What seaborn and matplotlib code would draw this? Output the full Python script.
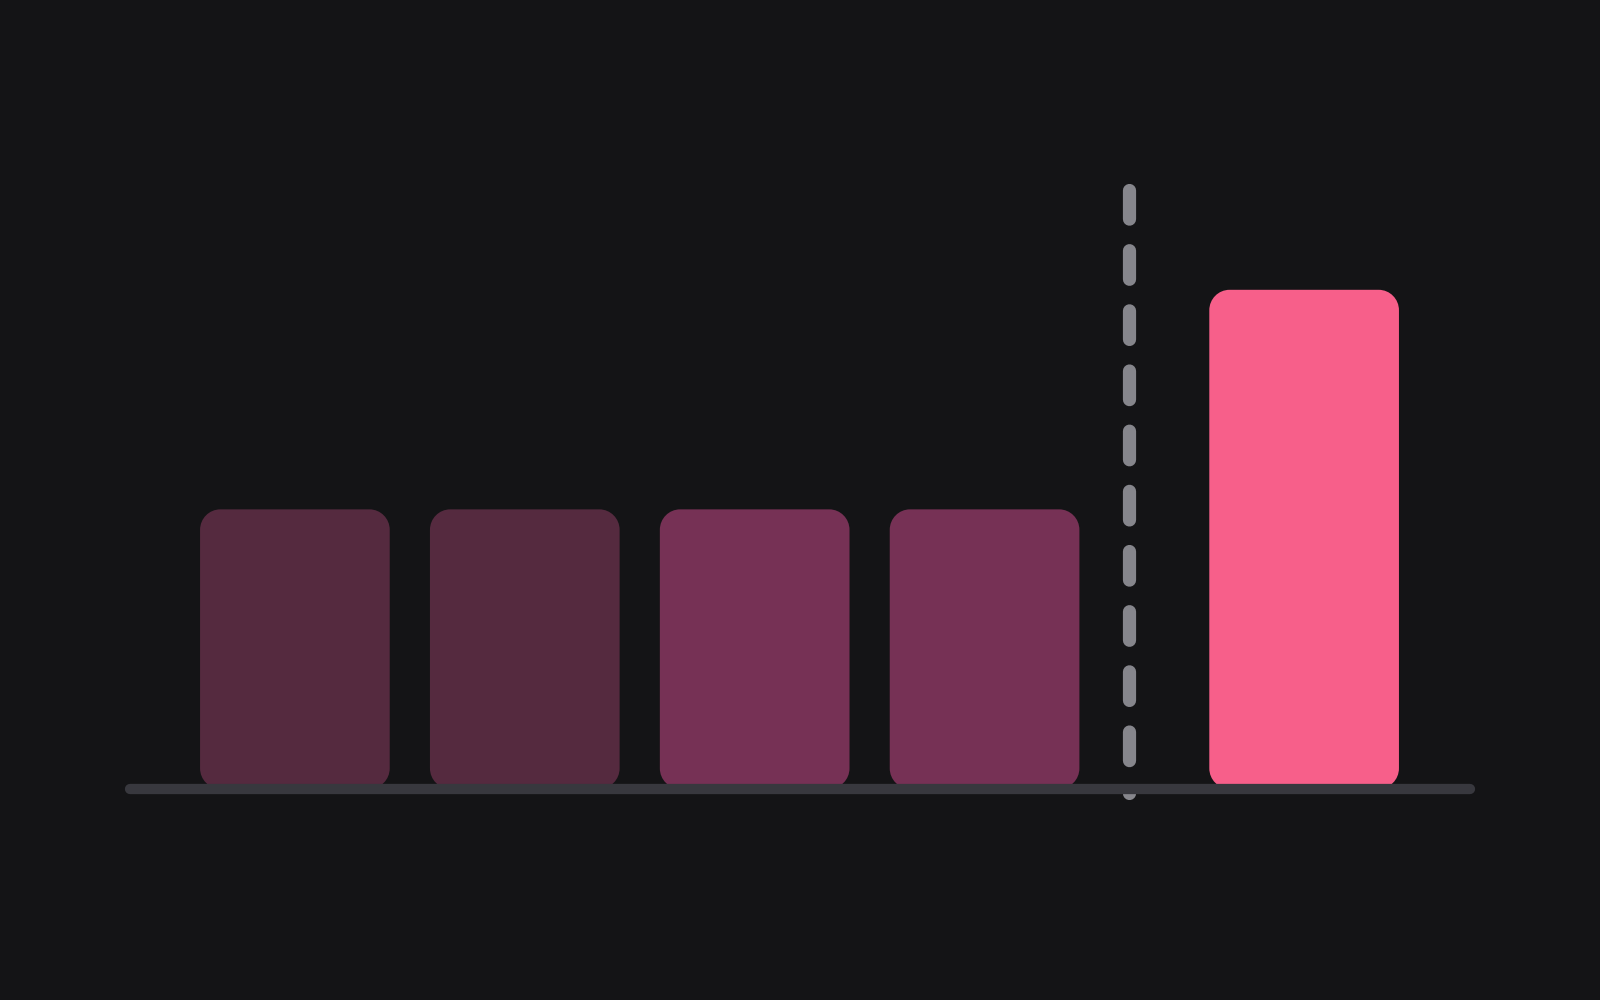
import pandas as pd
import matplotlib
matplotlib.use("Agg")
import matplotlib.pyplot as plt
from matplotlib.patches import PathPatch
from matplotlib.path import Path
import seaborn as sns

# data
categories = ["A", "B", "C", "D", "E"]
positions = [0, 1, 2, 3, 4.39]
values = [56, 56, 56, 56, 100]
bar_colors = ["#552a3f", "#552a3f", "#763155", "#763155", "#f75f8a"]
divider_x = 3.63

bg = "#141416"

df = pd.DataFrame({"pos": positions, "value": values, "cat": categories})


def rounded_rect(x0, y0, w, h, rx, ry):
    # rectangle with elliptic (visually circular) corners, cubic bezier arcs
    k = 0.5523
    x1, y1 = x0 + w, y0 + h
    verts = [
        (x0 + rx, y0), (x1 - rx, y0),
        (x1 - rx + k * rx, y0), (x1, y0 + ry - k * ry), (x1, y0 + ry),
        (x1, y1 - ry),
        (x1, y1 - ry + k * ry), (x1 - rx + k * rx, y1), (x1 - rx, y1),
        (x0 + rx, y1),
        (x0 + rx - k * rx, y1), (x0, y1 - ry + k * ry), (x0, y1 - ry),
        (x0, y0 + ry),
        (x0, y0 + ry - k * ry), (x0 + rx - k * rx, y0), (x0 + rx, y0),
        (x0 + rx, y0),
    ]
    codes = [Path.MOVETO, Path.LINETO,
             Path.CURVE4, Path.CURVE4, Path.CURVE4,
             Path.LINETO,
             Path.CURVE4, Path.CURVE4, Path.CURVE4,
             Path.LINETO,
             Path.CURVE4, Path.CURVE4, Path.CURVE4,
             Path.LINETO,
             Path.CURVE4, Path.CURVE4, Path.CURVE4,
             Path.CLOSEPOLY]
    return Path(verts, codes)


sns.set_theme(style="white")
fig = plt.figure(figsize=(16, 10), dpi=100, facecolor=bg)
ax = fig.add_axes([0, 0, 1, 1])
ax.set_facecolor(bg)

sns.barplot(data=df, x="pos", y="value", hue="cat", palette=dict(zip(categories, bar_colors)),
            native_scale=True, dodge=False, width=0.825, legend=False, errorbar=None,
            saturation=1, linewidth=0, ax=ax)

# swap the square bars for rounded ones (about 20 px radius)
rx, ry = 0.088, 4.1
for p in list(ax.patches):
    x0, y0 = p.get_x(), p.get_y()
    w, h = p.get_width(), p.get_height()
    col = p.get_facecolor()
    p.remove()
    ax.add_patch(PathPatch(rounded_rect(x0, y0, w, h, rx, ry),
                           facecolor=col, edgecolor="none", zorder=2))

# dashed divider
ax.plot([divider_x, divider_x], [120.0, -0.8], color="#86868c", lw=9.5,
        linestyle=(0, (2.17, 2.39)), solid_capstyle="round", dash_capstyle="round", zorder=3)

# baseline
ax.plot([-0.719, 5.113], [0, 0], color="#38383e", lw=7.4, solid_capstyle="round", zorder=4)

ax.set_xlim(-1.2827, 5.677)
ax.set_ylim(-42.33, 158.08)
ax.axis("off")

fig.savefig("out.png", dpi=100, facecolor=bg)
